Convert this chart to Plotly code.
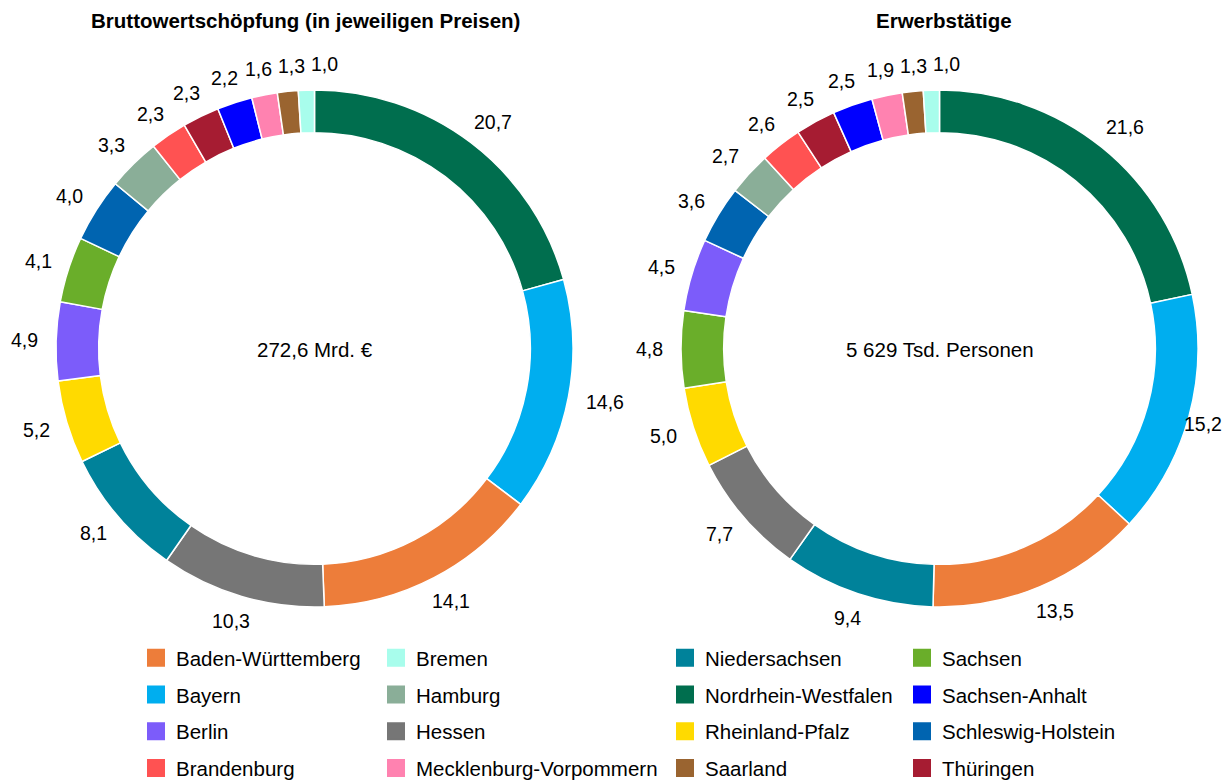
import math
import plotly.graph_objects as go

# ---------------- data ----------------
bws_states = ["Nordrhein-Westfalen", "Bayern", "Baden-Württemberg", "Hessen", "Niedersachsen",
              "Rheinland-Pfalz", "Berlin", "Sachsen", "Schleswig-Holstein", "Hamburg",
              "Brandenburg", "Thüringen", "Sachsen-Anhalt", "Mecklenburg-Vorpommern",
              "Saarland", "Bremen"]
bws_values = [20.7, 14.6, 14.1, 10.3, 8.1, 5.2, 4.9, 4.1, 4.0, 3.3, 2.3, 2.3, 2.2, 1.6, 1.3, 1.0]

erw_states = ["Nordrhein-Westfalen", "Bayern", "Baden-Württemberg", "Niedersachsen", "Hessen",
              "Rheinland-Pfalz", "Sachsen", "Berlin", "Schleswig-Holstein", "Hamburg",
              "Brandenburg", "Thüringen", "Sachsen-Anhalt", "Mecklenburg-Vorpommern",
              "Saarland", "Bremen"]
erw_values = [21.6, 15.2, 13.5, 9.4, 7.7, 5.0, 4.8, 4.5, 3.6, 2.7, 2.6, 2.5, 2.5, 1.9, 1.3, 1.0]

titles = ["Bruttowertschöpfung (in jeweiligen Preisen)", "Erwerbstätige"]
center_texts = ["272,6 Mrd. €", "5 629 Tsd. Personen"]

legend_columns = [
    ["Baden-Württemberg", "Bayern", "Berlin", "Brandenburg"],
    ["Bremen", "Hamburg", "Hessen", "Mecklenburg-Vorpommern"],
    ["Niedersachsen", "Nordrhein-Westfalen", "Rheinland-Pfalz", "Saarland"],
    ["Sachsen", "Sachsen-Anhalt", "Schleswig-Holstein", "Thüringen"],
]

colors = {
    "Nordrhein-Westfalen": "#006E4E",
    "Bayern": "#00AEEF",
    "Baden-Württemberg": "#ED7D3A",
    "Hessen": "#767676",
    "Niedersachsen": "#00829A",
    "Rheinland-Pfalz": "#FFDA00",
    "Berlin": "#7C5CFA",
    "Sachsen": "#6AAE2A",
    "Schleswig-Holstein": "#0064B0",
    "Hamburg": "#8AAE98",
    "Brandenburg": "#FF5252",
    "Thüringen": "#A61C32",
    "Sachsen-Anhalt": "#0000FF",
    "Mecklenburg-Vorpommern": "#FF82B0",
    "Saarland": "#9A6430",
    "Bremen": "#A8FDEC",
}

# ---------------- layout constants ----------------
FONT = "Liberation Sans, Arial, sans-serif"
W, H = 1225, 780
PIE_CY = 348.5
PIE_R = 258.5
PIE_CX = [314.5, 939.5]
LABEL_SIZE = 19.5
LABEL_GAP = 18

fig = go.Figure()


def dom(cx, cy, r):
    return dict(x=[(cx - r) / W, (cx + r) / W], y=[1 - (cy + r) / H, 1 - (cy - r) / H])


def text_width(s, size):
    w = 0.0
    for ch in s:
        w += 0.278 if ch in ",." else 0.556
    return w * size


annotations = []
for labels, vals, cx in [(bws_states, bws_values, PIE_CX[0]), (erw_states, erw_values, PIE_CX[1])]:
    fig.add_trace(go.Pie(
        labels=labels, values=vals, sort=False, direction="clockwise", rotation=0,
        hole=0.835, marker=dict(colors=[colors[s] for s in labels], line=dict(color="white", width=1.5)),
        textinfo="none", showlegend=False, domain=dom(cx, PIE_CY, PIE_R),
        hoverinfo="label+value",
    ))
    # outside value labels positioned from slice mid-angles
    total = sum(vals)
    cum = 0.0
    boxes = []
    for v in vals:
        mid = (cum + v / 2) / total * 2 * math.pi
        cum += v
        s, c = math.sin(mid), math.cos(mid)
        txt = f"{v:.1f}".replace(".", ",")
        tw = text_width(txt, LABEL_SIZE)
        hw, hh = tw / 2, 8
        px = cx + (PIE_R + LABEL_GAP) * s + hw * s
        py = PIE_CY - (PIE_R + LABEL_GAP) * c - hh * c
        px = min(px, W - 3 - hw)
        boxes.append([px, py, hw, 11, txt, mid])
    # resolve overlaps near top (left -> right)
    top = [b for b in boxes if math.cos(b[5]) > 0.8]
    top.sort(key=lambda b: b[0])
    for i in range(1, len(top)):
        a, b = top[i - 1], top[i]
        if abs(a[1] - b[1]) < a[3] + b[3] and b[0] - b[2] < a[0] + a[2] + 6:
            b[0] = a[0] + a[2] + 6 + b[2]
    for px, py, hw, hh, txt, mid in boxes:
        annotations.append(dict(text=txt, x=px / W, y=1 - py / H, xref="paper", yref="paper",
                                xanchor="center", yanchor="middle", showarrow=False,
                                font=dict(family=FONT, size=LABEL_SIZE, color="black")))

# legend entries (four columns)
legend_x = [136, 376, 665, 902]
for li, (col, lx) in enumerate(zip(legend_columns, legend_x)):
    lname = "legend" if li == 0 else f"legend{li+1}"
    for s in col:
        fig.add_trace(go.Scatter(
            x=[None], y=[None], mode="markers", name=s,
            marker=dict(symbol="square", size=16, color=colors[s], line=dict(color=colors[s], width=2)),
            legend=lname, legendgroup=s, showlegend=True, hoverinfo="skip",
        ))
    fig.update_layout(**{lname: dict(
        x=lx / W, y=1 - 638 / H, xanchor="left", yanchor="top", orientation="v",
        traceorder="grouped", tracegroupgap=7.1, font=dict(family=FONT, size=20.5, color="black"),
        bgcolor="rgba(0,0,0,0)", itemclick=False, itemdoubleclick=False,
    )})

for t, x in zip(titles, [305, 944]):
    annotations.append(dict(text=f"<b>{t}</b>", x=x / W, y=1 - 20 / H, xref="paper", yref="paper",
                            xanchor="center", yanchor="middle", showarrow=False,
                            font=dict(family=FONT, size=20.5, color="black")))
for t, x in zip(center_texts, PIE_CX):
    annotations.append(dict(text=t, x=x / W, y=1 - 350 / H, xref="paper", yref="paper",
                            xanchor="center", yanchor="middle", showarrow=False,
                            font=dict(family=FONT, size=20.5, color="black")))

fig.update_layout(
    width=W, height=H, margin=dict(l=0, r=0, t=0, b=0, autoexpand=False),
    paper_bgcolor="white", plot_bgcolor="white", separators=", ",
    xaxis=dict(visible=False), yaxis=dict(visible=False),
    annotations=annotations, font=dict(family=FONT),
)

fig.write_html("out.html", config={"displayModeBar": False},
               post_script="document.body.style.margin='0';")
